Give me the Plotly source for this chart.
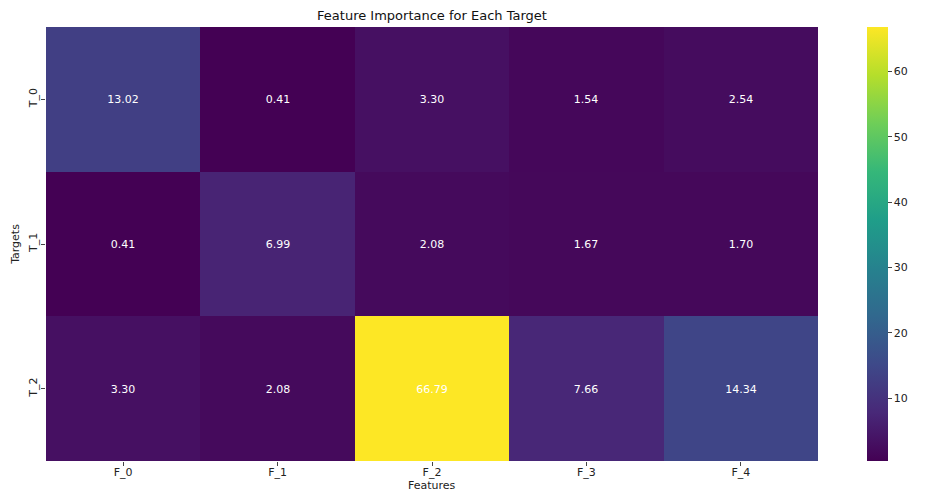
import plotly.graph_objects as go

features = ["F_0", "F_1", "F_2", "F_3", "F_4"]
targets = ["T_0", "T_1", "T_2"]
row_t0 = [13.02, 0.41, 3.30, 1.54, 2.54]
row_t1 = [0.41, 6.99, 2.08, 1.67, 1.70]
row_t2 = [3.30, 2.08, 66.79, 7.66, 14.34]
z = [row_t0, row_t1, row_t2]
text = [[f"{v:.2f}" for v in r] for r in z]

# page has an 8px body margin; work in figure coordinates
OFF = 8
W, H = 933 - 2 * OFF, 501 - 2 * OFF
x0, x1 = 46 - OFF, 818 - OFF
y0, y1 = 27 - OFF, 461 - OFF
cb_x = 867 - OFF

fig = go.Figure(go.Heatmap(
    z=z, x=features, y=targets, colorscale="Viridis",
    text=text, texttemplate="%{text}",
    textfont=dict(color="white", size=11, family="DejaVu Sans"),
    colorbar=dict(
        thickness=21, len=1, lenmode="fraction",
        y=0.5, yanchor="middle", yref="paper",
        x=(cb_x - x0) / (x1 - x0), xanchor="left", xref="paper",
        xpad=0, ypad=0,
        tickvals=[10, 20, 30, 40, 50, 60], ticks="outside", ticklen=4,
        tickfont=dict(size=11, family="DejaVu Sans", color="#222"),
        outlinewidth=0,
    ),
))

fig.update_layout(
    width=W, height=H,
    margin=dict(l=x0, r=W - x1, t=y0, b=H - y1, autoexpand=False),
    paper_bgcolor="white", plot_bgcolor="white",
    title=dict(text="Feature Importance for Each Target", x=(x0 + x1) / 2 / W, xanchor="center",
               y=1 - 7 / H, yanchor="middle",
               font=dict(size=13, family="DejaVu Sans", color="#111")),
    xaxis=dict(ticks="outside", ticklen=4, ticklabelstandoff=-3,
               tickfont=dict(size=11, family="DejaVu Sans", color="#222"),
               showgrid=False, zeroline=False),
    yaxis=dict(title=dict(text="Targets", font=dict(size=11, family="DejaVu Sans", color="#222"), standoff=4),
               autorange="reversed", tickangle=-90,
               ticks="outside", ticklen=4, tickfont=dict(size=11, family="DejaVu Sans", color="#222"),
               showgrid=False, zeroline=False),
    annotations=[dict(text="Features", xref="paper", yref="paper", x=0.5, xanchor="center",
                      y=-(486 - 461) / (y1 - y0), yanchor="middle", showarrow=False,
                      font=dict(size=11, family="DejaVu Sans", color="#222"))],
)

fig.write_html("out.html")
